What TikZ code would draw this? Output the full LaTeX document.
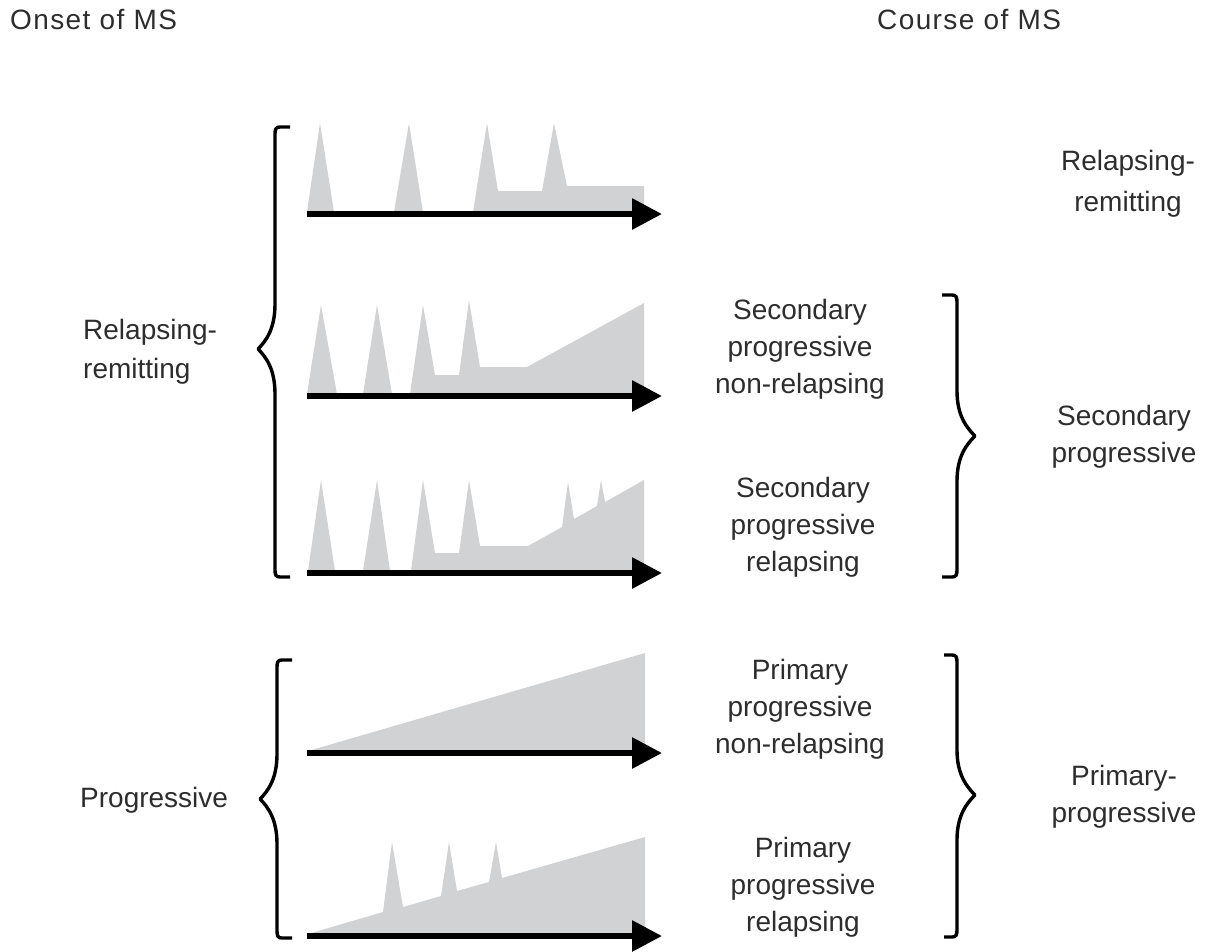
\documentclass[tikz,border=0pt]{standalone}
\usepackage{fontspec}
\setmainfont{Liberation Sans}
\usetikzlibrary{arrows.meta}
\definecolor{msgray}{RGB}{208,210,212}
\definecolor{mstext}{RGB}{45,45,45}
\newcommand{\MSBrace}[7]{%
  \draw[bracestyle] (#1,#4) -- ({#2+5*#7},#4)
    .. controls ({#2+1*#7},#4) and (#2,{#4+2}) .. (#2,{#4+7})
    -- (#2,{#5-45})
    .. controls (#2,{#5-20}) and ({#3+8*#7},{#5-8}) .. (#3,#5)
    .. controls ({#3+8*#7},{#5+8}) and (#2,{#5+20}) .. (#2,{#5+45})
    -- (#2,{#6-7})
    .. controls (#2,{#6-2}) and ({#2+1*#7},#6) .. ({#2+5*#7},#6)
    -- (#1,#6);}
\begin{document}
\begin{tikzpicture}[x=1pt,y=-1pt,
  bracestyle/.style={line width=3.4pt,line cap=butt,line join=round,black},
  axisline/.style={line width=6pt,black,-{Triangle[length=30pt,width=30pt]}},
  course/.style={fill=msgray,draw=none},
  lab/.style={font=\fontsize{28}{37}\selectfont,text=mstext,inner sep=0pt,align=center},
  labl/.style={font=\fontsize{28}{39}\selectfont,text=mstext,inner sep=0pt,align=left,anchor=west},
  headlab/.style={labl,font=\fontsize{28}{39}\selectfont\addfontfeature{LetterSpace=5}}]
\useasboundingbox (0,0) rectangle (1221,951);
% headers
\node[headlab] (onset) at (10,20) {Onset of MS};
\node[headlab] (coursehead) at (877,20) {Course of MS};
% graph 1: relapsing-remitting
\fill[course] (307,212) -- (320,123) -- (334,212) -- cycle;
\fill[course] (394,212) -- (409,123) -- (423,212) -- cycle;
\fill[course] (473,212) -- (487,123) -- (498,191) -- (542,191) -- (554,123) -- (567,186) -- (644,186) -- (644,212) -- cycle;
\coordinate (a1s) at (307,214); \coordinate (a1e) at (662,214);
\draw[axisline] (a1s) -- (a1e);
% graph 2: secondary progressive non-relapsing
\fill[course] (307,394) -- (321,305) -- (337,394) -- cycle;
\fill[course] (363,394) -- (377,305) -- (392,394) -- cycle;
\fill[course] (410,394) -- (423,305) -- (435,375) -- (459,375) -- (469,300) -- (480,367) -- (527,367) -- (644,303) -- (644,394) -- cycle;
\coordinate (a2s) at (307,396); \coordinate (a2e) at (662,396);
\draw[axisline] (a2s) -- (a2e);
% graph 3: secondary progressive relapsing
\fill[course] (308,571) -- (321,480) -- (335,571) -- cycle;
\fill[course] (363,571) -- (377,480) -- (390,571) -- cycle;
\fill[course] (411,571) -- (423,480) -- (435,553) -- (459,553) -- (469,480) -- (480,546) -- (528,546) -- (562,527) -- (568,482) -- (574,519) -- (597,506) -- (601,480) -- (605,502) -- (644,480) -- (644,571) -- cycle;
\coordinate (a3s) at (307,573); \coordinate (a3e) at (662,573);
\draw[axisline] (a3s) -- (a3e);
% graph 4: primary progressive non-relapsing
\fill[course] (308,751) -- (645,653) -- (645,751) -- cycle;
\coordinate (a4s) at (307,753); \coordinate (a4e) at (662,753);
\draw[axisline] (a4s) -- (a4e);
% graph 5: primary progressive relapsing
\fill[course] (308,934) -- (383,912) -- (392,842) -- (403,907) -- (441,896) -- (449,842) -- (457,891) -- (489,882) -- (496,842) -- (502,878) -- (645,837) -- (645,934) -- cycle;
\coordinate (a5s) at (307,936); \coordinate (a5e) at (662,936);
\draw[axisline] (a5s) -- (a5e);
% braces
\MSBrace{290}{275}{258}{127}{349}{577}{1}
\MSBrace{292}{277}{260}{660}{799}{938}{1}
\MSBrace{942}{957}{975}{295}{436}{577}{-1}
\MSBrace{944}{957}{975}{655}{795}{937}{-1}
% left labels
\node[labl] (rrl) at (83,352) {Relapsing-\\remitting};
\node[labl] (prog) at (80,800) {Progressive};
% middle labels
\node[lab] (spnr) at (800,349) {Secondary\\progressive\\non-relapsing};
\node[lab] (spr) at (803,527) {Secondary\\progressive\\relapsing};
\node[lab] (ppnr) at (800,709) {Primary\\progressive\\non-relapsing};
\node[lab] (ppr) at (803,887) {Primary\\progressive\\relapsing};
% right labels
\node[lab,font=\fontsize{28}{41}\selectfont] (rrr) at (1128,184) {Relapsing-\\remitting};
\node[lab] (sp) at (1124,437) {Secondary\\progressive};
\node[lab] (pp) at (1124,797) {Primary-\\progressive};
\end{tikzpicture}
\end{document}
